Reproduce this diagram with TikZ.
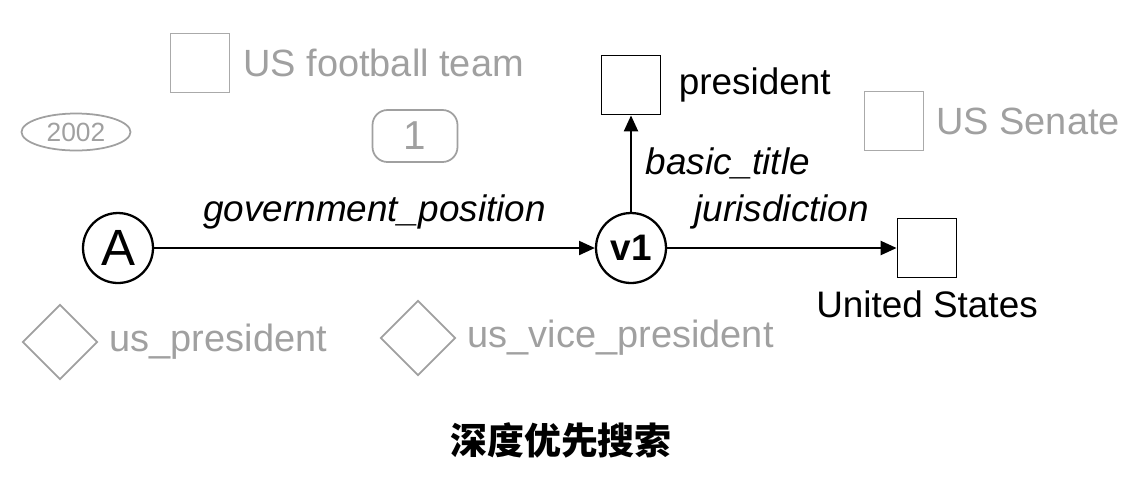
\documentclass[tikz,border=0pt]{standalone}
\usepackage{fontspec}
\setmainfont{Liberation Sans}
\newfontfamily\cjk{Noto Sans CJK SC}
\usetikzlibrary{positioning,shapes.geometric,arrows.meta}
\definecolor{fadegray}{RGB}{160,160,160}
\newcommand{\bigfont}{\fontsize{21}{25}\selectfont}
\newcommand{\grayfont}{\fontsize{21.6}{25}\selectfont}
\begin{document}
\begin{tikzpicture}[x=0.02cm,y=-0.02cm,
  every node/.style={font=\bigfont},
  blackbox/.style={draw,line width=1.1pt,minimum size=1.18cm,inner sep=0pt},
  graybox/.style={draw=fadegray!90,line width=1.1pt,minimum size=1.18cm,inner sep=0pt},
  vnode/.style={circle,draw,line width=1.3pt,minimum size=1.4cm,inner sep=0pt},
  txt/.style={inner sep=0pt},
  graytxt/.style={inner sep=0pt,text=fadegray,font=\grayfont},
  lbl/.style={inner sep=0pt,font=\bigfont\itshape},
  edge/.style={-{Triangle[length=9pt,width=8pt]},line width=1pt}]
  \useasboundingbox (0,0) rectangle (1124,485);
  % 灰色节点（未被选中的候选）
  \node[graybox] (team) at (200,63) {};
  \node[graytxt,right=0.25cm of team] (teamtxt) {US football team};
  \node[ellipse,draw=fadegray,line width=1pt,minimum width=2.18cm,minimum height=0.74cm,
        inner sep=0pt,text=fadegray,font=\fontsize{15}{18}\selectfont] (year) at (76,132) {2002};
  \node[draw=fadegray,rounded corners=0.3cm,line width=1pt,minimum width=1.7cm,
        minimum height=1.04cm,inner sep=0pt,text=fadegray,font=\fontsize{23}{26}\selectfont] (num) at (415,136) {1};
  \node[graybox] (senate) at (894,121) {};
  \node[graytxt,right=0.23cm of senate] (senatetxt) {US Senate};
  \node[diamond,draw=fadegray,line width=1pt,minimum size=1.5cm,inner sep=0pt] (uspres) at (60,342) {};
  \node[graytxt,right=0.22cm of uspres] (uspresstxt) {us\_president};
  \node[diamond,draw=fadegray,line width=1pt,minimum size=1.5cm,inner sep=0pt] (usvice) at (418,338) {};
  \node[graytxt,right=0.22cm of usvice] (usvicetxt) {us\_vice\_president};
  % 主路径 A -> v1
  \node[vnode,font=\fontsize{29}{30}\selectfont] (A) at (118,248) {A};
  \node[vnode,font=\bigfont\bfseries] (v1) at (631,248) {v1};
  \node[blackbox] (title) at (631,85) {};
  \node[txt,right=0.34cm of title] (titletxt) {president};
  \node[blackbox] (us) at (927,248) {};
  \node[txt,below=0.24cm of us] (ustxt) {United States};
  \draw[edge] (A) -- node[lbl,above=0.36cm] {government\_position} (v1);
  \draw[edge] (v1) -- node[lbl,right=0.28cm] {basic\_title} (title);
  \draw[edge] (v1) -- node[lbl,above=0.36cm] {jurisdiction} (us);
  % 标题
  \node[font=\cjk\bfseries\fontsize{21}{25}\selectfont] (caption) at (561,440) {深度优先搜索};
\end{tikzpicture}
\end{document}
